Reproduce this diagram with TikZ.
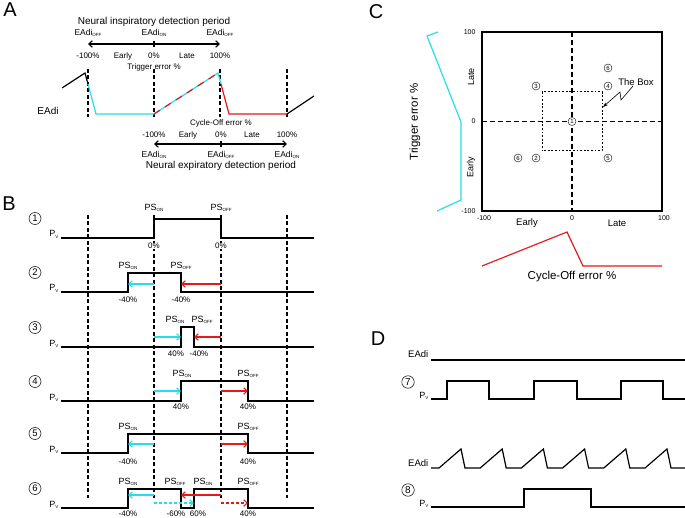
\documentclass[tikz,border=0pt]{standalone}
\usepackage{fontspec}
\setmainfont{Liberation Sans}
\usetikzlibrary{arrows.meta}
\definecolor{trigcyan}{RGB}{40,220,235}
\definecolor{cyclered}{RGB}{228,25,25}
\newcommand{\fsz}[1]{\fontsize{#1}{#1}\selectfont}
\newcommand{\lowsub}[2]{#1\raisebox{-0.25ex}{\fsz{4.5}#2}}

\begin{document}
\begin{tikzpicture}[x=1pt, y=-1pt,
  >={Straight Barb[length=3.5pt, width=6.5pt]},
  wave/.style={line width=1.2pt},
  guide/.style={line width=1.1pt, dash pattern=on 4pt off 2.5pt},
  shiftarr/.style={line width=1.1pt, ->},
  lbl/.style={font=\fsz{8}, inner sep=0.5pt},
  pct/.style={lbl, fill=white},
  pslbl/.style={font=\fsz{9}, inner sep=0.5pt},
  num/.style={circle, draw, line width=0.5pt, inner sep=0pt,
    minimum size=12pt, font=\fsz{9.5}},
  smallnum/.style={circle, draw, line width=0.4pt, inner sep=0pt,
    minimum size=8pt, font=\fsz{6}},
  panel/.style={font=\fsz{20}, inner sep=0pt}
]
  \useasboundingbox (0,0) rectangle (685,518);

  % Panel A
  \node[panel] (labA) at (10,10) {A};
  \node[font=\fsz{10}] (inspTitle) at (154,22) {Neural inspiratory detection period};
  \node[lbl, font=\fsz{8.5}] (inspL) at (88,33) {\lowsub{EAdi}{OFF}};
  \node[lbl, font=\fsz{8.5}] (inspM) at (154,33) {\lowsub{EAdi}{ON}};
  \node[lbl, font=\fsz{8.5}] (inspR) at (220,33) {\lowsub{EAdi}{OFF}};
  \draw[line width=1.1pt, <->] (88,44) -- (220,44);
  \draw[line width=1.1pt] (154,41) -- (154,47);
  \node[lbl] (tA1) at (88,56) {-100\%};
  \node[lbl] (tA2) at (123,56) {Early};
  \node[lbl] (tA3) at (154,56) {0\%};
  \node[lbl] (tA4) at (187,56) {Late};
  \node[lbl] (tA5) at (220,56) {100\%};
  \node[lbl] (trigLab) at (154,67) {Trigger error \%};
  \foreach \x in {88,154,220,287}
    \draw[guide] (\x,69) -- (\x,117);
  % EAdi trace
  \draw[wave] (62,88) -- (85,73) -- (88,84);
  \draw[wave, trigcyan] (88,84) -- (96,114) -- (154,114);
  \draw[wave, trigcyan] (154,114) -- (218,73) -- (221,84);
  \draw[wave, cyclered, dash pattern=on 7pt off 6pt] (154,114) -- (218,73);
  \draw[wave, cyclered] (221,84) -- (229,114) -- (287,114);
  \draw[wave] (287,114) -- (314,96);
  \node[font=\fsz{10}] (eadiA) at (48,111) {EAdi};
  \node[lbl] (cycLab) at (221,123) {Cycle-Off error \%};
  \node[lbl] (tB1) at (154,135) {-100\%};
  \node[lbl] (tB2) at (188,135) {Early};
  \node[lbl] (tB3) at (221,135) {0\%};
  \node[lbl] (tB4) at (252,135) {Late};
  \node[lbl] (tB5) at (287,135) {100\%};
  \draw[line width=1.1pt, <->] (154,144) -- (287,144);
  \draw[line width=1.1pt] (221,141) -- (221,147);
  \node[lbl, font=\fsz{8.5}] (expL) at (154,155) {\lowsub{EAdi}{ON}};
  \node[lbl, font=\fsz{8.5}] (expM) at (221,155) {\lowsub{EAdi}{OFF}};
  \node[lbl, font=\fsz{8.5}] (expR) at (287,155) {\lowsub{EAdi}{ON}};
  \node[font=\fsz{10}] (expTitle) at (221,166) {Neural expiratory detection period};

  % Panel B
  \node[panel] (labB) at (9,204) {B};
  \foreach \x in {88,154,221,287}
    \draw[guide] (\x,215) -- (\x,498);
  \foreach \n/\y in {1/238, 2/292, 3/347, 4/401, 5/453, 6/508} {
    \node[num] (row\n) at (35,\y-19.5) {\n};
    \node[pslbl, anchor=base east] (pv\n) at (59,\y-1) {\lowsub{P}{V}};
  }
  % row 1
  \draw[wave] (61,238) -- (154,238) -- (154,219) -- (221,219) -- (221,238) -- (314,238);
  \node[pslbl] (on1) at (154,208) {\lowsub{PS}{ON}};
  \node[pslbl] (off1) at (221,208) {\lowsub{PS}{OFF}};
  \node[pct] (p1a) at (154,246) {0\%};
  \node[pct] (p1b) at (221,246) {0\%};
  % row 2
  \draw[wave] (61,292) -- (128,292) -- (128,273) -- (181,273) -- (181,292) -- (314,292);
  \node[pslbl] (on2) at (128,266) {\lowsub{PS}{ON}};
  \node[pslbl] (off2) at (181,266) {\lowsub{PS}{OFF}};
  \draw[shiftarr, trigcyan] (154,284) -- (128,284);
  \draw[shiftarr, cyclered] (221,284) -- (181,284);
  \node[pct] (p2a) at (128,300) {-40\%};
  \node[pct] (p2b) at (181,300) {-40\%};
  % row 3
  \draw[wave] (61,347) -- (181,347) -- (181,327) -- (194,327) -- (194,347) -- (314,347);
  \node[pslbl] (on3) at (175,320) {\lowsub{PS}{ON}};
  \node[pslbl] (off3) at (202,320) {\lowsub{PS}{OFF}};
  \draw[shiftarr, trigcyan] (154,337) -- (181,337);
  \draw[shiftarr, cyclered] (221,337) -- (194,337);
  \node[pct] (p3a) at (176,354) {40\%};
  \node[pct] (p3b) at (199,354) {-40\%};
  % row 4
  \draw[wave] (61,401) -- (181,401) -- (181,381) -- (248,381) -- (248,401) -- (314,401);
  \node[pslbl] (on4) at (182,374) {\lowsub{PS}{ON}};
  \node[pslbl] (off4) at (248,374) {\lowsub{PS}{OFF}};
  \draw[shiftarr, trigcyan] (154,391) -- (181,391);
  \draw[shiftarr, cyclered] (221,391) -- (248,391);
  \node[pct] (p4a) at (181,407) {40\%};
  \node[pct] (p4b) at (248,407) {40\%};
  % row 5
  \draw[wave] (61,453) -- (128,453) -- (128,434) -- (248,434) -- (248,453) -- (314,453);
  \node[pslbl] (on5) at (128,427) {\lowsub{PS}{ON}};
  \node[pslbl] (off5) at (248,427) {\lowsub{PS}{OFF}};
  \draw[shiftarr, trigcyan] (154,444) -- (128,444);
  \draw[shiftarr, cyclered] (221,444) -- (248,444);
  \node[pct] (p5a) at (128,462) {-40\%};
  \node[pct] (p5b) at (248,462) {40\%};
  % row 6
  \draw[wave] (61,508) -- (128,508) -- (128,489) -- (181,489) -- (181,508) -- (194,508)
    -- (194,489) -- (248,489) -- (248,508) -- (314,508);
  \node[pslbl] (on6a) at (128,482) {\lowsub{PS}{ON}};
  \node[pslbl] (off6a) at (175,482) {\lowsub{PS}{OFF}};
  \node[pslbl] (on6b) at (203,482) {\lowsub{PS}{ON}};
  \node[pslbl] (off6b) at (248,482) {\lowsub{PS}{OFF}};
  \draw[shiftarr, trigcyan] (154,495) -- (128,495);
  \draw[shiftarr, cyclered] (221,495) -- (181,495);
  \draw[shiftarr, trigcyan, dash pattern=on 3pt off 2pt] (154,503) -- (194,503);
  \draw[shiftarr, cyclered, dash pattern=on 3pt off 2pt] (221,503) -- (248,503);
  \node[lbl] (p6a) at (128,514) {-40\%};
  \node[lbl] (p6b) at (176,514) {-60\%};
  \node[lbl] (p6c) at (198,514) {60\%};
  \node[lbl] (p6d) at (248,514) {40\%};

  % Panel C
  \node[panel] (labC) at (376,12) {C};
  \draw[line width=1.2pt] (482,32) rectangle (662,211);
  \draw[line width=1.2pt, dash pattern=on 5pt off 3pt] (572,32) -- (572,211);
  \draw[line width=1.2pt, dash pattern=on 5pt off 3pt] (482,121.5) -- (662,121.5);
  \draw[line width=1pt, dash pattern=on 1.8pt off 1.8pt] (542,92) rectangle (602,151);
  \node[font=\fsz{7}, anchor=east] (yHi) at (479,32) {100};
  \node[font=\fsz{7}, anchor=east] (yMid) at (479,121.5) {0};
  \node[font=\fsz{7}, anchor=east] (yLo) at (479,211) {-100};
  \node[font=\fsz{7}] (xLo) at (484,218) {-100};
  \node[font=\fsz{7}] (xMid) at (572,218) {0};
  \node[font=\fsz{7}] (xHi) at (664,218) {100};
  \node[font=\fsz{9}, rotate=90] (cLate) at (471,77) {Late};
  \node[font=\fsz{9}, rotate=90] (cEarly) at (471,167) {Early};
  \node[font=\fsz{9.5}] (bEarly) at (527,223) {Early};
  \node[font=\fsz{9.5}] (bLate) at (617,223) {Late};
  \foreach \k/\px/\py in {6/608/68, 3/536/86, 4/608/86, 6/518/158, 2/536/158, 5/608/158}
    \node[smallnum] (pt\k-\px) at (\px,\py) {\k};
  \node[smallnum, fill=white] (ptOne) at (572,121.5) {1};
  \node[font=\fsz{9.5}] (boxLab) at (636,82) {The Box};
  \draw[line width=0.6pt, -{Stealth[length=5pt, width=3.5pt]}]
    (633,86) -- (621,100) -- (620,92) -- (603,107);
  \node[font=\fsz{11.5}, rotate=90] (trigAxis) at (415,122) {Trigger error \%};
  \draw[wave, trigcyan] (438,32) -- (427,36) -- (461,122) -- (461,200) -- (437,211);
  \draw[wave, cyclered] (482,266) -- (567,232) -- (583,266) -- (662,266);
  \node[font=\fsz{11.5}] (cycAxis) at (572,277) {Cycle-Off error \%};

  % Panel D
  \node[panel] (labD) at (378,339) {D};
  \node[font=\fsz{9.5}, anchor=base east, inner sep=0.5pt] (eadiTop) at (429,358) {EAdi};
  \draw[wave] (431,360) -- (685,360);
  \node[num, minimum size=12.5pt, font=\fsz{10}] (rowSeven) at (408,382) {7};
  \node[pslbl, anchor=base east] (pvSeven) at (429,398) {\lowsub{P}{V}};
  \draw[wave] (431,399) -- (447,399) -- (447,381) -- (489,381) -- (489,399) -- (534,399)
    -- (534,381) -- (577,381) -- (577,399) -- (621,399) -- (621,381) -- (663,381)
    -- (663,399) -- (685,399);
  \node[font=\fsz{9.5}, anchor=base east, inner sep=0.5pt] (eadiSaw) at (429,466) {EAdi};
  \draw[wave] (431,468) \foreach \i in {0,...,5} {
    -- ({439+41.2*\i},468) -- ({461+41.2*\i},449) -- ({465+41.2*\i},468) } -- (685,468);
  \node[num, minimum size=12.5pt, font=\fsz{10}] (rowEight) at (408,490) {8};
  \node[pslbl, anchor=base east] (pvEight) at (429,506) {\lowsub{P}{V}};
  \draw[wave] (431,507) -- (524,507) -- (524,489) -- (591,489) -- (591,507) -- (685,507);
\end{tikzpicture}
\end{document}
